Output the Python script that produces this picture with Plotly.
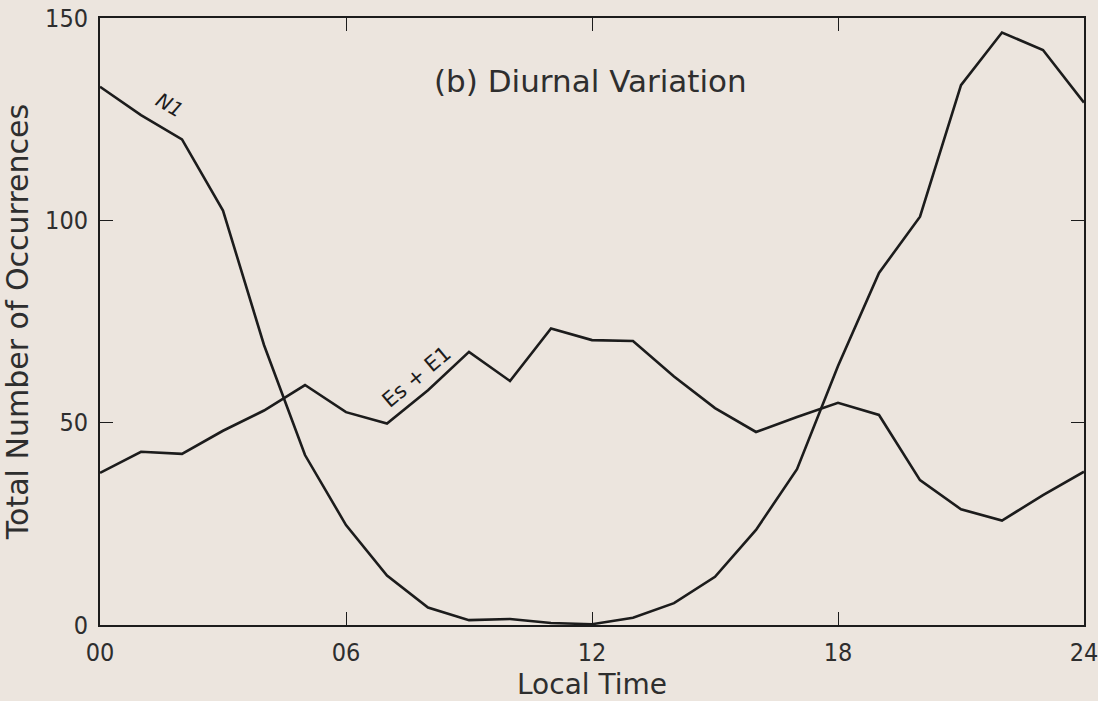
import plotly.graph_objects as go

# Local time (hours) and diurnal occurrence counts
hours = list(range(25))
n1_counts = [133.0, 126.0, 120.0, 102.4, 69.2, 42.0, 24.7, 12.2, 4.3, 1.2, 1.5, 0.5, 0.2,
             1.8, 5.4, 11.9, 23.5, 38.5, 64.0, 87.0, 100.9, 133.4, 146.4, 142.1, 129.1]
es_e1_counts = [37.6, 42.8, 42.3, 48.0, 53.0, 59.3, 52.6, 49.8, 58.0, 67.5, 60.3, 73.3, 70.4,
                70.2, 61.4, 53.6, 47.7, 51.4, 54.9, 51.9, 35.8, 28.6, 25.8, 32.1, 37.9]

x_tickvals = [0, 6, 12, 18, 24]
x_ticktext = ["00", "06", "12", "18", "24"]
y_tickvals = [0, 50, 100, 150]
y_ticktext = ["0", "50", "100", "150"]

bg = "#ece5de"
ink = "#1c1c1c"
txt = "#2e2e2e"
label_font = "DejaVu Sans Condensed, Liberation Sans Narrow, DejaVu Sans, sans-serif"
text_font = "DejaVu Sans, sans-serif"

fig = go.Figure()
fig.add_trace(go.Scatter(x=hours, y=n1_counts, mode="lines",
                         line=dict(color=ink, width=2.6), name="N1", showlegend=False))
fig.add_trace(go.Scatter(x=hours, y=es_e1_counts, mode="lines",
                         line=dict(color=ink, width=2.6), name="Es + E1", showlegend=False))

fig.update_layout(
    width=1098, height=701,
    margin=dict(l=100, r=14, t=18, b=76, autoexpand=False),
    paper_bgcolor=bg, plot_bgcolor=bg,
    xaxis=dict(range=[0, 24], tickvals=x_tickvals, ticktext=x_ticktext,
               ticks="inside", ticklen=13, tickwidth=1.2, tickcolor=ink,
               showline=True, linewidth=2, linecolor=ink, mirror="allticks",
               showgrid=False, zeroline=False, automargin=False,
               ticklabeloverflow="allow", ticklabelstandoff=4,
               tickfont=dict(family=label_font, size=25, color=txt),
               title=dict(text="Local Time", standoff=12,
                          font=dict(family=text_font, size=28, color=txt))),
    yaxis=dict(range=[0, 150], tickvals=y_tickvals, ticktext=y_ticktext,
               ticks="inside", ticklen=13, tickwidth=1.2, tickcolor=ink,
               showline=True, linewidth=2, linecolor=ink, mirror="allticks",
               showgrid=False, zeroline=False, automargin=False,
               ticklabeloverflow="allow", ticklabelstandoff=5,
               tickfont=dict(family=label_font, size=25, color=txt),
               title=dict(text="Total Number of Occurrences", standoff=12,
                          font=dict(family=text_font, size=30, color=txt))),
)

fig.add_annotation(x=0.498, y=0.896, xref="paper", yref="paper", showarrow=False,
                   xanchor="center", yanchor="middle",
                   text="(b) Diurnal Variation",
                   font=dict(family=text_font, size=31, color=txt))
fig.add_annotation(x=1.7, y=128.6, showarrow=False, text="N1", textangle=30,
                   font=dict(family=text_font, size=20, color=ink, style="italic"))
fig.add_annotation(x=7.72, y=61.2, showarrow=False, text="Es + E1", textangle=-40,
                   font=dict(family=text_font, size=21, color=ink))

fig.write_html("out.html")
